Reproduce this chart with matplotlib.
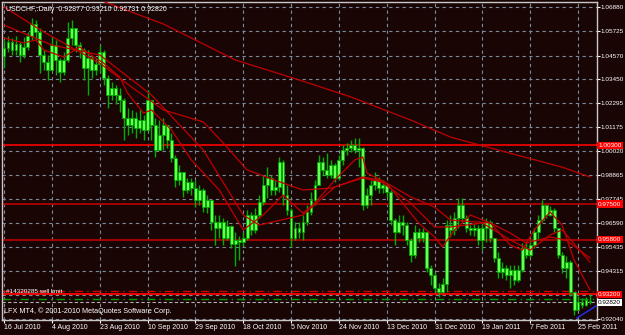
import numpy as np
import matplotlib.pyplot as plt

plt.rcParams['font.family'] = ['Liberation Sans', 'DejaVu Sans']

# USDCHF daily candles, 16 Jul 2010 .. 25 Feb 2011 (prices)
closes = [1.0493, 1.0521, 1.0483, 1.0512, 1.0460, 1.0498, 1.0550, 1.0607, 1.0569, 1.0460,
          1.0426, 1.0388, 1.0507, 1.0436, 1.0379, 1.0436, 1.0540, 1.0588, 1.0507, 1.0483,
          1.0398, 1.0445, 1.0388, 1.0417, 1.0474, 1.0350, 1.0269, 1.0302, 1.0269, 1.0245,
          1.0160, 1.0126, 1.0160, 1.0112, 1.0150, 1.0103, 1.0245, 1.0126, 1.0007, 1.0079,
          1.0126, 1.0055, 0.9969, 0.9865, 0.9903, 0.9817, 0.9855, 0.9826, 0.9769, 0.9817,
          0.9736, 0.9769, 0.9665, 0.9636, 0.9665, 0.9588, 0.9646, 0.9560, 0.9579, 0.9569,
          0.9588, 0.9698, 0.9627, 0.9698, 0.9760, 0.9841, 0.9874, 0.9817, 0.9831, 0.9950,
          0.9793, 0.9722, 0.9588, 0.9636, 0.9617, 0.9665, 0.9712, 0.9769, 0.9841, 0.9950,
          0.9912, 0.9888, 0.9936, 0.9874, 0.9960, 1.0007, 1.0017, 1.0031, 1.0007, 1.0017,
          0.9746, 0.9793, 0.9841, 0.9865, 0.9826, 0.9841, 0.9807, 0.9674, 0.9617, 0.9665,
          0.9650, 0.9579, 0.9508, 0.9617, 0.9588, 0.9617, 0.9446, 0.9412, 0.9350, 0.9331,
          0.9370, 0.9650, 0.9627, 0.9684, 0.9746, 0.9684, 0.9636, 0.9627, 0.9636, 0.9579,
          0.9636, 0.9665, 0.9588, 0.9493, 0.9427, 0.9446, 0.9412, 0.9436, 0.9389, 0.9436,
          0.9541, 0.9508, 0.9555, 0.9617, 0.9674, 0.9746, 0.9698, 0.9722, 0.9636, 0.9508,
          0.9446, 0.9474, 0.9331, 0.9246, 0.9284, 0.9270, 0.9293, 0.92820]
highs = [1.0531, 1.0550, 1.0540, 1.0550, 1.0521, 1.0545, 1.0569, 1.0636, 1.0626, 1.0588,
         1.0483, 1.0460, 1.0545, 1.0531, 1.0445, 1.0474, 1.0617, 1.0626, 1.0588, 1.0521,
         1.0493, 1.0483, 1.0460, 1.0445, 1.0507, 1.0483, 1.0364, 1.0331, 1.0317, 1.0302,
         1.0255, 1.0207, 1.0198, 1.0188, 1.0198, 1.0174, 1.0293, 1.0245, 1.0160, 1.0150,
         1.0160, 1.0126, 1.0088, 0.9984, 0.9936, 0.9888, 0.9874, 0.9874, 0.9865, 0.9841,
         0.9826, 0.9793, 0.9746, 0.9698, 0.9698, 0.9684, 0.9674, 0.9650, 0.9617, 0.9598,
         0.9617, 0.9722, 0.9712, 0.9731, 0.9793, 0.9888, 0.9926, 0.9888, 0.9865, 0.9974,
         0.9960, 0.9841, 0.9731, 0.9665, 0.9665, 0.9698, 0.9746, 0.9807, 0.9865, 0.9984,
         0.9974, 0.9993, 0.9960, 0.9945, 0.9984, 1.0031, 1.0041, 1.0055, 1.0064, 1.0064,
         1.0022, 0.9826, 0.9865, 0.9903, 0.9879, 0.9865, 0.9850, 0.9817, 0.9684, 0.9698,
         0.9698, 0.9665, 0.9588, 0.9650, 0.9636, 0.9636, 0.9603, 0.9460, 0.9427, 0.9374,
         0.9398, 0.9674, 0.9698, 0.9712, 0.9779, 0.9779, 0.9698, 0.9650, 0.9655, 0.9650,
         0.9665, 0.9684, 0.9674, 0.9588, 0.9522, 0.9474, 0.9460, 0.9460, 0.9460, 0.9460,
         0.9565, 0.9569, 0.9579, 0.9636, 0.9698, 0.9769, 0.9746, 0.9741, 0.9731, 0.9636,
         0.9522, 0.9503, 0.9484, 0.9331, 0.9312, 0.9303, 0.9308, 0.93210]
lows = [1.0398, 1.0474, 1.0460, 1.0460, 1.0426, 1.0445, 1.0483, 1.0531, 1.0531, 1.0374,
        1.0388, 1.0341, 1.0388, 1.0364, 1.0331, 1.0364, 1.0426, 1.0507, 1.0474, 1.0445,
        1.0341, 1.0269, 1.0350, 1.0364, 1.0379, 1.0317, 1.0207, 1.0245, 1.0226, 1.0188,
        1.0055, 1.0079, 1.0088, 1.0064, 1.0088, 1.0055, 1.0103, 1.0055, 0.9974, 1.0017,
        1.0007, 1.0017, 0.9950, 0.9831, 0.9841, 0.9784, 0.9803, 0.9793, 0.9736, 0.9746,
        0.9712, 0.9707, 0.9627, 0.9555, 0.9588, 0.9555, 0.9579, 0.9541, 0.9455, 0.9484,
        0.9550, 0.9579, 0.9603, 0.9612, 0.9684, 0.9746, 0.9779, 0.9793, 0.9793, 0.9807,
        0.9746, 0.9698, 0.9546, 0.9579, 0.9588, 0.9579, 0.9650, 0.9698, 0.9746, 0.9841,
        0.9888, 0.9874, 0.9874, 0.9855, 0.9865, 0.9936, 0.9984, 0.9998, 0.9993, 0.9926,
        0.9722, 0.9731, 0.9746, 0.9817, 0.9803, 0.9803, 0.9784, 0.9650, 0.9555, 0.9612,
        0.9603, 0.9555, 0.9474, 0.9493, 0.9569, 0.9569, 0.9427, 0.9365, 0.9331, 0.9308,
        0.9327, 0.9331, 0.9593, 0.9603, 0.9636, 0.9665, 0.9617, 0.9603, 0.9598, 0.9555,
        0.9531, 0.9569, 0.9569, 0.9474, 0.9398, 0.9398, 0.9389, 0.9350, 0.9365, 0.9379,
        0.9427, 0.9493, 0.9493, 0.9541, 0.9579, 0.9665, 0.9684, 0.9693, 0.9617, 0.9493,
        0.9422, 0.9398, 0.9312, 0.9222, 0.9255, 0.9255, 0.9265, 0.92731]
first_open = 1.0455
last_open = 0.92877

# moving averages (bar index, price)
ma_slow_x = [24, 40, 58, 74, 87, 102, 112, 124, 140, 147]
ma_slow_y = [1.0721, 1.0607, 1.0436, 1.0341, 1.0260, 1.0150, 1.0069, 1.0007, 0.9926, 0.9879]
ma_mid_x = [0, 10, 24, 32, 40, 50, 55, 61, 70, 75, 82, 90, 96, 102, 108, 112, 122, 127, 131, 137, 141, 147]
ma_mid_y = [1.0688, 1.0569, 1.0421, 1.0307, 1.0198, 1.0141, 1.0041, 0.9912, 0.9850, 0.9817, 0.9826,
            0.9874, 0.9850, 0.9784, 0.9736, 0.9674, 0.9660, 0.9612, 0.9565, 0.9593, 0.9579, 0.9493]
ma_21_x = [0, 12, 24, 37, 50, 60, 64, 75, 83, 90, 94, 102, 108, 112, 120, 127, 132, 137, 140, 147]
ma_21_y = [1.0602, 1.0507, 1.0460, 1.0269, 1.0007, 0.9698, 0.9650, 0.9698, 0.9831, 0.9879,
           0.9865, 0.9755, 0.9641, 0.9641, 0.9660, 0.9579, 0.9531, 0.9603, 0.9627, 0.9474]
ma_10_x = [0, 5, 8, 10, 15, 19, 21, 25, 29, 31, 35, 37, 42, 47, 54, 60, 65, 70, 75, 78, 83, 88, 90,
           91, 96, 100, 104, 108, 110, 113, 117, 122, 127, 130, 133, 137, 140, 143, 147]
ma_10_y = [1.0540, 1.0517, 1.0531, 1.0483, 1.0450, 1.0498, 1.0469, 1.0421, 1.0355, 1.0279, 1.0183,
           1.0198, 1.0103, 0.9960, 0.9817, 0.9627, 0.9698, 0.9793, 0.9707, 0.9755, 0.9865, 0.9960,
           0.9974, 0.9898, 0.9850, 0.9755, 0.9660, 0.9593, 0.9546, 0.9627, 0.9698, 0.9660, 0.9555,
           0.9531, 0.9627, 0.9712, 0.9650, 0.9484, 0.9341]

# blue trendline at bottom right
trend_x = [143.75, 148.5]
trend_y = [0.9208, 0.9265]

price_ticks = [1.06880, 1.05725, 1.04570, 1.03450, 1.02295, 1.01175, 1.00020, 0.98865,
               0.97745, 0.96590, 0.95435, 0.94315, 0.93160, 0.92040]
date_pos = [0, 12, 24, 36, 48, 60, 72, 84, 96, 108, 120, 132, 144]
date_labels = ['16 Jul 2010', '4 Aug 2010', '23 Aug 2010', '10 Sep 2010', '29 Sep 2010',
               '18 Oct 2010', '5 Nov 2010', '24 Nov 2010', '13 Dec 2010', '31 Dec 2010',
               '19 Jan 2011', '7 Feb 2011', '25 Feb 2011']

levels = [1.00300, 0.97500, 0.95800]
order_price = 0.93200
order_sl = 0.93350
order_tp = 0.92980
bid = 0.92820

bg = '#1a0505'
fs = 4.6
fig = plt.figure(figsize=(6.25, 3.35), dpi=100, facecolor=bg)
ax = fig.add_axes([2 / 625, 15 / 335, 595 / 625, 318 / 335], facecolor=bg)

n = len(closes)
idx = np.arange(n)
opens = np.array([first_open] + closes[:-1])
opens[-1] = last_open
closes = np.array(closes)

# grid
for p in price_ticks:
    ax.axhline(p, color='#7a8a9a', lw=0.8, ls=(0, (3, 3)), zorder=1)
for d in date_pos:
    ax.axvline(d, color='#7a8a9a', lw=0.8, ls=(0, (3, 3)), zorder=1)

# horizontal levels
ax.axhline(levels[0], color='#e80000', lw=1.3, zorder=2)
ax.axhline(levels[1], color='#b00000', lw=1.3, zorder=2)
ax.axhline(levels[2], color='#b00000', lw=1.3, zorder=2)
ax.axhline(order_sl, color='#d00000', lw=1, ls=(0, (6, 3, 1, 3)), zorder=2)
ax.axhline(order_price, color='#ff0000', lw=1.3, zorder=2)
ax.axhline(order_tp, color='#00a000', lw=1, ls=(0, (6, 3, 1, 3)), zorder=2)
ax.axhline(bid, color='#b0b0b0', lw=0.8, ls=(0, (3, 2)), zorder=2)

# candles
ax.vlines(idx, lows, highs, color='#00b000', lw=1, zorder=3)
bottoms = np.minimum(opens, closes)
heights = np.maximum(np.abs(closes - opens), 0.0003)
ax.bar(idx, heights, bottom=bottoms, width=0.72, color='#66ff55', edgecolor='#00a800',
       linewidth=0.6, zorder=4)

# moving averages
ax.plot(ma_slow_x, ma_slow_y, color='#c00000', lw=0.9, zorder=5)
ax.plot(ma_mid_x, ma_mid_y, color='#c00000', lw=0.9, zorder=5)
ax.plot(ma_21_x, ma_21_y, color='#c00000', lw=0.9, zorder=5)
ax.plot(ma_10_x, ma_10_y, color='#c00000', lw=0.9, zorder=5)
ax.plot(trend_x, trend_y, color='#2030ff', lw=1, zorder=5)

ax.set_xlim(-0.5, 148.75)
ax.set_ylim(0.91983, 1.07118)

ax.yaxis.tick_right()
ax.set_yticks(price_ticks)
ax.set_yticklabels(['' if abs(p - 0.9316) < 1e-6 else '%.5f' % p for p in price_ticks])
ax.set_xticks(date_pos)
ax.set_xticklabels(date_labels, ha='left')
ax.tick_params(colors='white', labelsize=5.0, length=2, width=0.8, pad=1.2)
ax.tick_params(axis='y', labelsize=fs, pad=0.8)
for s in ax.spines.values():
    s.set_color('#c8c8c8')
    s.set_linewidth(1)

tr = ax.get_yaxis_transform()
for p in levels + [order_price]:
    ax.text(1.002, p, '%.5f' % p, transform=tr, color='white', fontsize=fs, va='center',
            ha='left', bbox=dict(facecolor='#ff0000', edgecolor='none', pad=0.8), zorder=10,
            clip_on=False)
ax.text(1.002, bid, '%.5f' % bid, transform=tr, color='black', fontsize=fs, va='center',
        ha='left', bbox=dict(facecolor='white', edgecolor='none', pad=0.8), zorder=10,
        clip_on=False)

ax.text(0.006, 0.988, 'USDCHF,.Daily  0.92877 0.93210 0.92731 0.92820', transform=ax.transAxes,
        color='white', fontsize=5.0, va='top', ha='left', zorder=10)
ax.text(0.004, 0.015, 'LFX MT4, \u00a9 2001-2010 MetaQuotes Software Corp.', transform=ax.transAxes,
        color='white', fontsize=5.2, va='bottom', ha='left', zorder=10)
ax.text(0.5, order_price + 0.0002, '#14320285 sell limit', color='white', fontsize=4.6,
        va='bottom', ha='left', zorder=10)

fig.savefig('out.png', dpi=100, facecolor=bg)
